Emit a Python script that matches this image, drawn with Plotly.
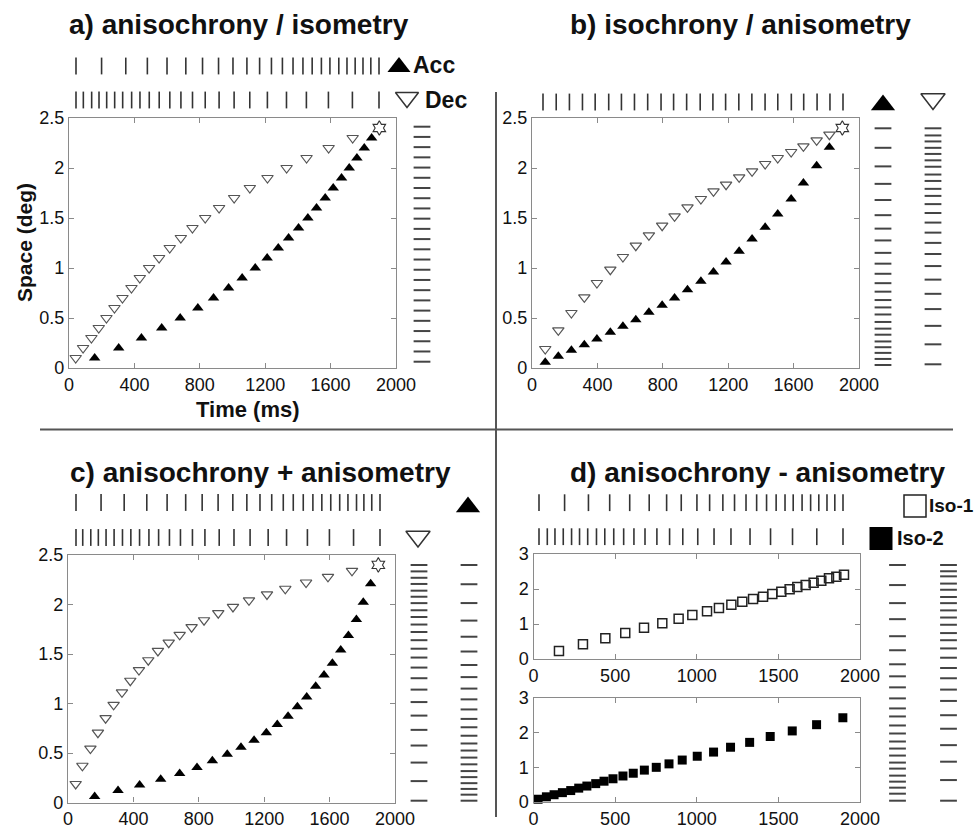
import plotly.graph_objects as go

# ---------------- data ----------------
# a) anisochrony / isometry
a_acc_t = [157, 304, 443, 567, 680, 788, 884, 976, 1059, 1139, 1212, 1280, 1343, 1404,
           1461, 1514, 1567, 1616, 1667, 1714, 1761, 1806, 1851, 1898]
a_acc_s = [0.1, 0.2, 0.3, 0.4, 0.5, 0.6, 0.7, 0.8, 0.9, 1.0, 1.1, 1.2, 1.3, 1.4,
           1.5, 1.6, 1.7, 1.8, 1.9, 2.0, 2.1, 2.2, 2.3, 2.4]
a_dec_t = [41, 86, 137, 182, 229, 278, 327, 382, 433, 490, 551, 616, 684, 755,
           833, 918, 1010, 1106, 1214, 1331, 1453, 1588, 1735, 1898]
a_dec_s = [0.1, 0.2, 0.3, 0.4, 0.5, 0.6, 0.7, 0.8, 0.9, 1.0, 1.1, 1.2, 1.3, 1.4,
           1.5, 1.6, 1.7, 1.8, 1.9, 2.0, 2.1, 2.2, 2.3, 2.4]

# b) isochrony / anisometry
b_t = [81, 161, 241, 320, 397, 479, 556, 635, 715, 796, 872, 951, 1033, 1110,
       1187, 1267, 1346, 1426, 1503, 1585, 1660, 1741, 1819, 1898]
b_acc_s = [0.057, 0.117, 0.177, 0.233, 0.29, 0.357, 0.417, 0.483, 0.557, 0.627, 0.70, 0.783,
           0.867, 0.96, 1.06, 1.167, 1.29, 1.407, 1.54, 1.69, 1.85, 2.023, 2.207, 2.4]
b_dec_s = [0.19, 0.377, 0.55, 0.707, 0.85, 0.983, 1.11, 1.223, 1.327, 1.423, 1.517, 1.607,
           1.69, 1.767, 1.833, 1.907, 1.967, 2.04, 2.1, 2.16, 2.217, 2.277, 2.333, 2.4]

# c) anisochrony + anisometry
c_acc_t = [163, 306, 438, 567, 683, 789, 883, 974, 1058, 1138, 1213, 1280, 1346, 1403,
           1460, 1515, 1566, 1617, 1668, 1715, 1764, 1806, 1851, 1898]
c_acc_s = [0.06, 0.12, 0.177, 0.234, 0.294, 0.354, 0.421, 0.488, 0.558, 0.628, 0.705, 0.789,
           0.872, 0.966, 1.066, 1.173, 1.287, 1.407, 1.541, 1.688, 1.848, 2.022, 2.209, 2.4]
c_dec_t = [47, 88, 137, 183, 230, 279, 330, 381, 434, 491, 550, 616, 683, 756,
           832, 919, 1009, 1107, 1217, 1329, 1456, 1590, 1737, 1898]
c_dec_s = [0.187, 0.371, 0.545, 0.705, 0.852, 0.986, 1.113, 1.23, 1.337, 1.437, 1.531, 1.614,
           1.694, 1.771, 1.841, 1.912, 1.975, 2.042, 2.102, 2.159, 2.222, 2.28, 2.34, 2.4]

# d) anisochrony - anisometry
d_iso1_t = [156, 303, 440, 562, 677, 789, 889, 973, 1063, 1136, 1212, 1279, 1345, 1406,
            1463, 1518, 1569, 1616, 1667, 1716, 1763, 1810, 1855, 1902]
d_iso1_s = [0.229, 0.42, 0.59, 0.743, 0.895, 1.02, 1.152, 1.257, 1.362, 1.457, 1.552, 1.638,
            1.714, 1.78, 1.857, 1.924, 1.99, 2.057, 2.114, 2.181, 2.238, 2.305, 2.352, 2.41]
d_iso2_t = [28, 79, 126, 177, 228, 277, 327, 381, 432, 487, 548, 611, 679, 752,
            830, 911, 1003, 1103, 1207, 1324, 1450, 1585, 1734, 1895]
d_iso2_s = [0.08, 0.15, 0.21, 0.27, 0.33, 0.40, 0.46, 0.53, 0.6, 0.67, 0.75, 0.83,
            0.92, 1.0, 1.1, 1.21, 1.32, 1.44, 1.58, 1.72, 1.89, 2.05, 2.23, 2.43]

ticks_2000_400 = [0, 400, 800, 1200, 1600, 2000]
ticks_2000_500 = [0, 500, 1000, 1500, 2000]
ticks_space_25 = [0, 0.5, 1, 1.5, 2, 2.5]
ticks_space_3 = [0, 1, 2, 3]

# ---------------- styling ----------------
W, H = 975, 829
FONT = "Liberation Sans, Arial, sans-serif"
AXC = "#8a8a8a"
TXT = "#111111"
TICKC = "#333333"

fig = go.Figure()
counter = [0]


def add_axes(xpx, ypx, xr, yr, main=False, xticks=None, yticks=None):
    counter[0] += 1
    i = counter[0]
    sfx = "" if i == 1 else str(i)
    xd = [xpx[0] / W, xpx[1] / W]
    yd = [1 - ypx[1] / H, 1 - ypx[0] / H]
    xa = dict(domain=xd, range=xr, anchor="y" + sfx, fixedrange=True)
    ya = dict(domain=yd, range=yr, anchor="x" + sfx, fixedrange=True)
    if main:
        common = dict(showline=True, linecolor=AXC, linewidth=1.3, mirror="ticks",
                      ticks="inside", ticklen=5, tickcolor=AXC, tickwidth=1,
                      showgrid=False, zeroline=False,
                      tickfont=dict(family=FONT, size=18, color=TXT))
        xa.update(common, tickvals=xticks)
        ya.update(common, tickvals=yticks)
    else:
        xa.update(visible=False)
        ya.update(visible=False)
    fig.update_layout(**{"xaxis" + sfx: xa, "yaxis" + sfx: ya})
    return "x" + sfx, "y" + sfx


def add_row(times, xpx, yc):
    x, y = add_axes(xpx, (yc - 8, yc + 8), [min(times), max(times)], [0, 1])
    fig.add_trace(go.Scatter(x=times, y=[0.5] * len(times), xaxis=x, yaxis=y,
                             mode="markers", cliponaxis=False, hoverinfo="skip",
                             marker=dict(symbol="line-ns", size=12,
                                         line=dict(width=1.6, color=TICKC))))


def add_col(vals, xc, ypx):
    x, y = add_axes((xc - 8, xc + 8), ypx, [0, 1], [min(vals), max(vals)])
    fig.add_trace(go.Scatter(x=[0.5] * len(vals), y=vals, xaxis=x, yaxis=y,
                             mode="markers", cliponaxis=False, hoverinfo="skip",
                             marker=dict(symbol="line-ew", size=12,
                                         line=dict(width=2, color="#444444"))))


def acc_trace(t, s, x, y):
    fig.add_trace(go.Scatter(x=t[:-1], y=s[:-1], xaxis=x, yaxis=y, mode="markers",
                             marker=dict(symbol="triangle-up", size=10, color="black",
                                         line=dict(width=0))))


def dec_trace(t, s, x, y):
    fig.add_trace(go.Scatter(x=t[:-1], y=s[:-1], xaxis=x, yaxis=y, mode="markers",
                             marker=dict(symbol="triangle-down-open", size=10,
                                         color="#555555", line=dict(width=1.2))))


def star_trace(t, s, x, y):
    fig.add_trace(go.Scatter(x=t[-1:], y=s[-1:], xaxis=x, yaxis=y, mode="markers",
                             cliponaxis=False,
                             marker=dict(symbol="hexagram-open", size=11,
                                         color="#333333", line=dict(width=1.1))))


# ---- panel a ----
x, y = add_axes((69, 396), (118, 368), [0, 2000], [0, 2.5], main=True,
                xticks=ticks_2000_400, yticks=ticks_space_25)
dec_trace(a_dec_t, a_dec_s, x, y)
acc_trace(a_acc_t, a_acc_s, x, y)
star_trace(a_acc_t, a_acc_s, x, y)
add_row(a_acc_t, (76, 379), 66)
add_row(a_dec_t, (76, 379), 100)
add_col(a_acc_s, 422, (126.7, 361.7))

# ---- panel b ----
x, y = add_axes((532, 859), (118, 368), [0, 2000], [0, 2.5], main=True,
                xticks=ticks_2000_400, yticks=ticks_space_25)
dec_trace(b_t, b_dec_s, x, y)
acc_trace(b_t, b_acc_s, x, y)
star_trace(b_t, b_acc_s, x, y)
add_row(b_t, (543, 843), 102)
add_col(b_acc_s, 883, (128.3, 365))
add_col(b_dec_s, 933, (128.3, 364.3))

# ---- panel c ----
x, y = add_axes((68, 395), (555, 802.5), [0, 2000], [0, 2.5], main=True,
                xticks=ticks_2000_400, yticks=ticks_space_25)
dec_trace(c_dec_t, c_dec_s, x, y)
acc_trace(c_acc_t, c_acc_s, x, y)
star_trace(c_acc_t, c_acc_s, x, y)
add_row(c_acc_t, (76, 380), 502.5)
add_row(c_dec_t, (76, 380), 537.5)
add_col(c_dec_s, 419, (565, 800.7))
add_col(c_acc_s, 469, (565, 800.7))

# ---- panel d ----
x, y = add_axes((533.5, 860), (554, 659), [0, 2000], [0, 3], main=True,
                xticks=ticks_2000_500, yticks=ticks_space_3)
fig.add_trace(go.Scatter(x=d_iso1_t, y=d_iso1_s, xaxis=x, yaxis=y, mode="markers",
                         marker=dict(symbol="square-open", size=9, color="#222222",
                                     line=dict(width=1.5))))
x, y = add_axes((533.5, 860), (698, 802), [0, 2000], [0, 3], main=True,
                xticks=ticks_2000_500, yticks=ticks_space_3)
fig.add_trace(go.Scatter(x=d_iso2_t, y=d_iso2_s, xaxis=x, yaxis=y, mode="markers",
                         cliponaxis=False,
                         marker=dict(symbol="square", size=9, color="black",
                                     line=dict(width=0))))
add_row(d_iso1_t, (539, 843), 502.7)
add_row(d_iso2_t, (539, 843), 536.7)
add_col(d_iso2_s, 897.5, (565, 800.7))
add_col(d_iso1_s, 948.5, (565, 800.7))

# ---------------- legend keys (on a full-page pixel canvas) ----------------
kx, ky = add_axes((0, W), (0, H), [0, W], [H, 0])


def key(xp, yp, symbol, size, filled, color="black"):
    m = dict(symbol=symbol, size=size, color=color, line=dict(width=0 if filled else 1.5))
    fig.add_trace(go.Scatter(x=[xp], y=[yp], xaxis=kx, yaxis=ky, mode="markers",
                             cliponaxis=False, hoverinfo="skip", marker=m))


key(399, 67, "triangle-up", 20, True)
key(407, 97.5, "triangle-down-open", 20, False, "#333333")
key(883, 105, "triangle-up", 21, True)
key(933, 99, "triangle-down-open", 21, False, "#333333")
key(468, 507, "triangle-up", 21, True)
key(418, 536.5, "triangle-down-open", 21, False, "#333333")
key(915, 506, "square-open", 22, False, "#222222")
key(881, 538.5, "square", 23, True)


# ---------------- annotations ----------------
def px_ann(text, xp, yp, size, bold=False, xanchor="center", family=FONT, angle=0, color=TXT):
    fig.add_annotation(text=("<b>%s</b>" % text) if bold else text,
                       x=xp / W, y=1 - yp / H, xref="paper", yref="paper",
                       xanchor=xanchor, yanchor="middle", showarrow=False, textangle=angle,
                       font=dict(family=family, size=size, color=color))


px_ann("a) anisochrony / isometry", 239, 25, 28, bold=True)
px_ann("b) isochrony / anisometry", 740, 25, 28, bold=True)
px_ann("c) anisochrony + anisometry", 260, 472, 28, bold=True)
px_ann("d) anisochrony - anisometry", 757, 472, 28, bold=True)

px_ann("Time (ms)", 248, 409, 22, bold=True)
px_ann("Space (deg)", 25, 243, 21, bold=True, angle=-90)

px_ann("Acc", 411, 65, 23, bold=True, xanchor="left")
px_ann("Dec", 423, 100, 23, bold=True, xanchor="left")
px_ann("Iso-1", 927, 506, 19, bold=True, xanchor="left")
px_ann("Iso-2", 895, 538, 20, bold=True, xanchor="left")

# divider lines
fig.add_shape(type="line", xref="paper", yref="paper", x0=40 / W, x1=953 / W,
              y0=1 - 429.5 / H, y1=1 - 429.5 / H, line=dict(color="#555555", width=2))
fig.add_shape(type="line", xref="paper", yref="paper", x0=496 / W, x1=496 / W,
              y0=1 - 92 / H, y1=1 - 817 / H, line=dict(color="#555555", width=2))

fig.update_layout(width=W, height=H,
                  margin=dict(l=0, r=0, t=0, b=0, pad=0, autoexpand=False),
                  paper_bgcolor="white", plot_bgcolor="rgba(0,0,0,0)", showlegend=False,
                  font=dict(family=FONT, color=TXT))

fig.write_html("out.html", config={"displayModeBar": False},
               post_script="document.body.style.margin='0px';")
